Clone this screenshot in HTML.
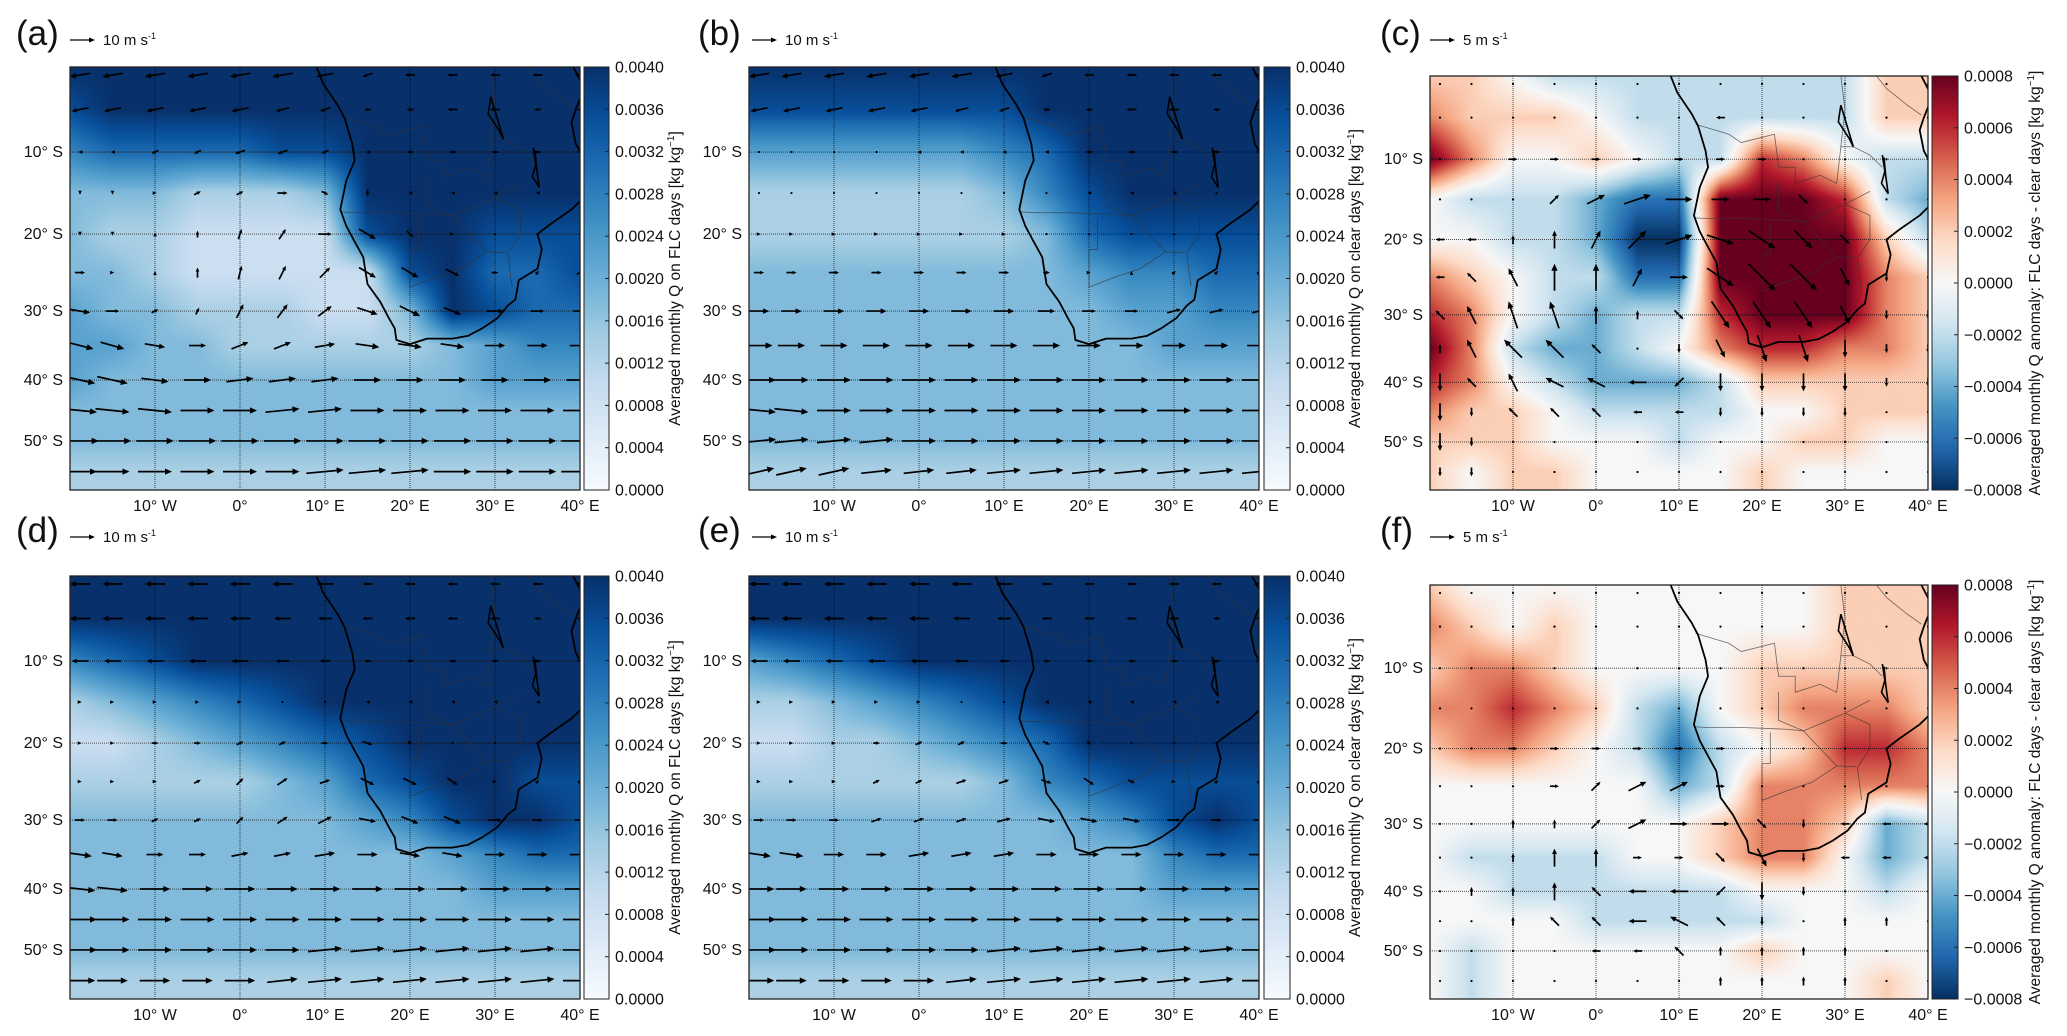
<!DOCTYPE html>
<html><head><meta charset="utf-8">
<style>
html,body{margin:0;padding:0;background:#fff;}
#root{position:relative;width:2067px;height:1036px;overflow:hidden;background:#fff;font-family:"Liberation Sans",sans-serif;}
canvas{position:absolute;}
svg{position:absolute;left:0;top:0;}
</style></head>
<body>
<div id="root">
<svg id="ov" width="2067" height="1036"></svg>
</div>
<script>
// ---------- data: rows = latitude 0,-5,...,-55 ; cols = longitude -20,-15,...,40 ----------
const lats = [0,-5,-10,-15,-20,-25,-30,-35,-40,-45,-50,-55];
const lons = [-20,-15,-10,-5,0,5,10,15,20,25,30,35,40];
// Q fields, digit d -> d/9*0.0040 kg/kg
const qA = ["9 9 9 9 9 9 9 9 9 9 9 9 9","8 9 9 9 9 9 9 9 9 9 9 9 9","6 7 7 7 7 8 8 9 9 9 9 9 9","4 4 4 3 3 3 4 9 9 9 9 9 9","4 3 3 2 2 2 2 8 9 9 8 8 8","4 4 3 2 2 2 2 2 8 9 7 7 8","5 4 4 3 3 3 2 2 4 9 8 7 7","5 5 4 4 3 3 3 3 3 4 5 6 6","5 4 4 4 4 4 4 4 4 4 5 5 5","4 4 4 4 4 4 4 4 4 4 4 4 4","4 4 4 4 4 4 4 4 4 4 4 4 4","3 3 3 3 3 3 3 3 3 3 3 3 3"];
const qB = ["9 9 9 9 9 9 9 9 9 9 9 9 9","8 8 8 8 8 8 8 9 9 9 9 9 9","5 5 5 5 5 5 6 7 9 9 9 9 9","3 3 3 3 3 3 4 6 8 9 9 9 9","3 3 3 3 3 3 3 4 7 8 8 8 8","4 4 4 4 4 4 4 4 5 6 6 7 7","4 4 4 4 4 4 4 4 4 5 5 6 6","4 4 4 4 4 4 4 4 4 4 5 5 5","4 4 4 4 4 4 4 4 4 4 4 4 4","4 4 4 4 4 4 4 4 4 4 4 4 4","4 4 4 4 4 4 4 4 4 4 4 4 4","3 3 3 3 3 3 3 3 3 3 3 3 3"];
const qD = ["9 9 9 9 9 9 9 9 9 9 9 9 9","9 9 9 9 9 9 9 9 9 9 9 9 9","6 7 8 9 9 9 9 9 9 9 9 9 9","3 4 5 6 7 8 9 9 9 9 9 9 9","2 2 3 4 5 6 7 8 9 9 9 9 9","3 3 3 3 3 4 5 7 8 9 9 8 8","4 4 4 4 4 4 4 5 6 8 9 9 8","4 4 4 4 4 4 4 4 4 5 6 7 7","4 4 4 4 4 4 4 4 4 4 5 5 5","4 4 4 4 4 4 4 4 4 4 4 4 4","4 4 4 4 4 4 4 4 4 4 4 4 4","3 3 3 3 3 3 3 3 3 3 3 3 3"];
const qE = ["9 9 9 9 9 9 9 9 9 9 9 9 9","9 9 9 9 9 9 9 9 9 9 9 9 9","5 6 7 8 9 9 9 9 9 9 9 9 9","3 3 4 5 6 7 8 9 9 9 9 9 9","2 2 3 3 4 5 6 7 9 9 9 9 9","3 3 3 3 3 3 4 6 7 8 8 8 8","4 4 4 4 4 4 4 4 5 6 8 9 8","4 4 4 4 4 4 4 4 4 4 6 7 7","4 4 4 4 4 4 4 4 4 4 5 5 5","4 4 4 4 4 4 4 4 4 4 4 4 4","4 4 4 4 4 4 4 4 4 4 4 4 4","3 3 3 3 3 3 3 3 3 3 3 3 3"];
// anomaly fields, digit d -> (d-4)/4*0.0008 kg/kg
const anC = ["5 5 4 3 3 3 3 3 3 3 3 5 5","6 5 5 5 4 3 3 3 3 3 3 5 5","8 6 4 4 5 4 3 3 7 6 4 3 3","4 3 3 3 2 1 1 8 8 8 7 3 2","4 4 3 3 2 0 0 8 8 8 8 5 3","6 5 4 3 3 1 1 8 8 8 8 6 5","7 6 4 3 2 3 3 7 8 8 8 6 5","8 6 3 2 2 3 4 6 7 7 6 6 5","7 6 4 3 2 2 2 3 5 5 5 5 5","6 5 5 4 3 3 3 3 4 4 5 5 5","5 5 5 4 4 4 3 4 4 5 5 4 4","5 4 5 5 4 4 4 4 5 4 4 4 4"];
const anF = ["5 4 4 4 4 4 4 4 4 4 5 5 5","6 5 4 5 4 4 4 4 4 4 5 5 5","5 6 6 5 4 4 4 4 5 5 5 5 5","6 6 7 6 5 3 2 4 5 6 6 6 5","5 6 6 5 4 3 1 3 4 5 7 7 6","4 4 4 4 4 4 2 3 6 6 6 6 6","4 4 4 4 4 4 4 5 6 6 5 2 3","4 3 3 3 3 4 4 5 6 6 4 2 3","4 4 3 3 3 3 3 3 4 4 4 3 4","4 4 4 4 3 3 3 3 3 4 4 4 4","4 3 4 4 4 4 4 4 5 4 4 4 4","4 3 4 4 4 4 4 4 4 4 4 5 4"];
// winds (m/s): u eastward, v northward
const uA = ["-6 -6 -6 -6 -6 -6 -5 -3 -3 -3 -3 -3 -3","-5 -5 -5 -5 -5 -4 -3 -2 -2 -3 -3 -2 -2","-1 -1 -2 -2 -3 -3 -2 -1 -2 -2 -2 -2 -2","0 0 1 2 2 3 2 0 -1 -1 -1 -1 -1","0 0 0 0 1 2 4 5 2 1 0 0 0","3 1 0 0 1 2 3 5 5 4 2 1 2","6 4 2 1 2 3 4 6 6 5 5 4 4","8 7 6 5 5 5 6 7 7 7 6 6 6","9 9 8 8 8 8 8 8 8 8 8 8 8","10 10 10 10 10 10 10 10 10 10 10 10 10","11 11 11 11 11 11 11 11 11 11 11 11 11","10 10 10 10 10 10 11 11 11 11 11 11 11"];
const vA = ["-1 -1 -1 -1 -1 -1 -1 -1 0 0 0 0 0","-1 -1 -1 -1 -1 -1 -1 0 0 0 0 0 0","0 0 -1 -1 -1 -1 -1 0 0 0 0 0 0","-1 -1 0 1 1 0 -1 -2 0 0 0 0 0","-1 -1 1 2 3 3 0 -3 -2 0 0 0 0","0 0 1 3 4 4 3 -3 -3 -2 0 1 1","-1 0 1 2 4 4 3 -2 -3 -2 0 0 0","-2 -2 -1 0 2 2 1 -1 -1 -1 0 0 0","-2 -2 -1 0 1 1 1 0 0 0 0 0 0","-1 -1 -1 0 0 1 1 0 0 0 0 0 0","0 0 0 0 0 0 0 0 0 0 0 0 0","0 0 0 0 0 0 1 1 1 0 0 0 0"];
const uB = ["-6 -6 -6 -6 -6 -6 -5 -3 -3 -3 -3 -3 -3","-5 -5 -5 -5 -5 -4 -3 -2 -2 -3 -3 -2 -2","0 0 0 0 -1 -1 -1 -1 -2 -2 -2 -2 -2","0 0 0 0 0 0 0 0 -1 -1 -1 0 0","1 1 1 1 1 1 1 0 0 0 0 0 0","3 3 3 3 3 3 3 2 1 0 1 1 1","6 6 6 6 6 6 6 5 4 4 4 4 4","8 8 8 8 8 8 8 8 7 7 7 7 7","10 10 10 10 10 10 10 10 10 10 10 10 10","10 10 10 10 10 10 10 10 10 10 10 10 10","10 10 10 10 10 10 10 10 10 10 10 10 10","9 9 9 9 9 9 10 10 10 10 10 10 10"];
const vB = ["-1 -1 -1 -1 -1 -1 -1 -1 0 0 0 0 0","-1 -1 -1 -1 -1 -1 -1 0 0 0 0 0 0","0 0 0 0 0 0 0 0 0 0 0 0 0","0 0 0 0 0 0 0 0 0 0 0 0 0","0 0 0 0 0 0 0 0 0 0 0 0 0","0 0 0 0 0 0 0 0 0 1 1 1 1","0 0 0 0 0 0 0 0 0 0 1 1 1","0 0 0 0 0 0 0 0 0 0 0 0 0","0 0 0 0 0 0 0 0 0 0 0 0 0","-1 -1 0 0 0 0 0 0 0 0 0 0 0","1 1 1 1 0 0 0 0 0 0 0 0 0","2 2 2 1 1 1 1 1 1 1 1 1 1"];
const uD = ["-6 -6 -6 -6 -6 -6 -5 -3 -3 -3 -3 -3 -3","-6 -6 -6 -6 -6 -5 -4 -3 -3 -3 -3 -2 -2","-5 -5 -5 -5 -5 -4 -3 -2 -2 -2 -2 -2 -2","1 1 1 1 1 0 0 -1 -1 -1 -1 -1 -1","1 1 2 2 2 2 2 3 1 0 0 0 0","1 1 1 2 2 3 3 4 4 3 1 1 1","3 3 2 2 2 3 4 5 5 5 4 3 3","7 6 5 5 5 5 6 6 6 6 6 6 6","9 9 9 9 9 9 9 9 9 9 9 9 9","10 10 10 10 10 10 10 10 10 10 10 10 10","10 10 10 10 10 10 10 10 10 10 10 10 10","9 9 9 9 9 9 10 10 10 10 10 10 10"];
const vD = ["0 0 0 0 0 0 0 0 0 0 0 0 0","0 0 0 0 0 0 0 0 0 0 0 0 0","0 0 0 0 0 0 0 0 0 0 0 0 0","0 0 0 0 0 0 0 0 0 0 0 0 0","0 0 0 0 1 1 0 -1 -1 0 0 0 0","0 0 0 1 2 2 1 -2 -2 -2 0 1 1","0 0 1 1 2 2 2 -1 -2 -2 0 0 0","-1 -1 0 0 1 1 1 0 -1 -1 0 0 0","-1 -1 0 0 0 0 0 0 0 0 0 0 0","0 0 0 0 0 0 0 0 0 0 0 0 0","0 0 0 0 0 0 1 1 1 1 1 1 0","0 0 0 0 0 1 1 1 1 1 1 1 0"];
const uE = ["-6 -6 -6 -6 -6 -6 -5 -3 -3 -3 -3 -3 -3","-6 -6 -6 -6 -6 -5 -4 -3 -3 -3 -3 -2 -2","-5 -5 -5 -5 -5 -4 -3 -2 -2 -2 -2 -2 -2","1 1 1 1 1 0 0 -1 -1 -1 -1 -1 -1","1 1 1 2 2 2 2 2 1 0 0 0 0","1 1 1 2 2 3 3 3 3 2 1 1 1","3 3 3 3 3 3 4 5 5 5 4 3 3","7 7 6 6 6 6 6 6 6 6 6 6 6","9 9 9 9 9 9 9 9 9 9 9 9 9","10 10 10 10 10 10 10 10 10 10 10 10 10","10 10 10 10 10 10 10 10 10 10 10 10 10","9 9 9 9 9 9 10 10 10 10 10 10 10"];
const vE = ["0 0 0 0 0 0 0 0 0 0 0 0 0","0 0 0 0 0 0 0 0 0 0 0 0 0","0 0 0 0 0 0 0 0 0 0 0 0 0","0 0 0 0 0 0 0 0 0 0 0 0 0","0 0 0 0 1 1 0 -1 -1 0 0 0 0","0 0 0 1 1 1 1 -1 -2 -1 0 1 1","0 0 0 1 1 1 1 -1 -1 -1 0 0 0","-1 -1 0 0 1 1 1 0 0 0 0 0 0","0 0 0 0 0 0 0 0 0 0 0 0 0","0 0 0 0 0 0 0 0 0 0 0 0 0","0 0 0 0 0 0 1 1 1 1 1 1 0","0 0 0 0 0 1 1 1 1 1 1 1 0"];
const uC = ["0 0 0 0 0 0 0 0 0 0 0 0 0","0 0 0 0 0 0 0 -1 0 0 0 0 0","0 0 1 1 1 1 1 1 1 0 0 0 0","0 0 0 1 2 3 3 2 2 1 0 0 0","-1 -1 0 0 1 2 3 3 3 2 1 0 0","-1 -1 -1 0 0 1 2 3 3 3 1 0 0","-1 -1 -1 -1 0 0 1 2 2 2 1 0 0","0 -1 -2 -2 -1 0 0 1 1 1 0 0 0","0 -1 -1 -2 -2 -2 -1 0 0 0 0 0 0","0 0 -1 -1 -1 -1 -1 0 0 0 0 0 0","0 0 0 0 0 0 0 0 0 0 0 0 0","0 0 0 0 0 0 0 0 0 0 0 0 0"];
const vC = ["0 0 0 0 0 0 0 0 0 0 0 0 0","0 0 0 0 0 0 0 0 0 0 0 0 0","0 0 0 0 0 0 0 0 0 0 0 0 0","0 0 0 1 1 1 0 0 0 -1 0 0 0","0 0 1 2 2 2 1 -1 -2 -2 -1 0 0","0 1 2 3 3 2 0 -2 -3 -3 -2 -1 0","1 2 3 3 2 1 -1 -3 -3 -3 -2 -1 -1","1 2 2 2 1 0 -1 -2 -3 -3 -2 -1 -1","-2 1 2 1 1 0 -1 -2 -2 -2 -2 -1 -1","-2 -1 1 1 1 0 0 -1 -1 -1 -1 0 0","-2 -1 0 0 0 0 0 0 0 0 0 0 0","-1 -1 0 0 0 0 0 0 0 0 0 0 0"];
const uF = ["0 0 0 0 0 0 0 0 0 0 0 0 0","0 0 0 0 0 0 0 0 0 0 0 0 0","0 0 0 0 0 0 0 0 0 0 0 0 0","0 0 0 0 0 0 0 0 0 0 0 0 0","0 0 1 1 1 1 1 1 0 0 0 0 0","0 0 0 1 1 2 2 1 0 0 0 0 0","0 0 0 0 1 2 2 2 1 0 -1 -1 -1","0 0 0 0 0 1 1 1 1 0 -1 -1 -1","0 0 0 0 -1 -2 -2 -1 0 0 0 0 0","0 0 0 -1 -1 -2 -2 -1 0 0 0 0 0","0 0 0 0 -1 -1 -1 0 0 0 0 0 0","0 0 0 0 0 0 0 0 0 0 0 0 0"];
const vF = ["0 0 0 0 0 0 0 0 0 0 0 0 0","0 0 0 0 0 0 0 0 0 0 0 0 0","0 0 0 0 0 0 0 0 0 0 0 0 0","0 0 0 0 0 0 0 0 0 0 0 0 0","0 0 0 0 0 0 0 0 0 0 0 0 0","0 0 0 0 1 1 1 0 0 0 0 0 0","0 0 1 1 1 1 0 0 -1 -1 0 0 0","0 0 1 2 2 0 0 -1 -2 -1 0 0 0","0 1 1 2 1 0 0 -1 -2 -1 0 0 0","0 0 1 1 1 0 1 1 -1 0 1 1 0","0 0 0 0 0 0 1 1 1 1 1 0 0","0 0 0 0 0 0 0 1 1 1 1 0 0"];
const qTicks = ["0.0000","0.0004","0.0008","0.0012","0.0016","0.0020","0.0024","0.0028","0.0032","0.0036","0.0040"];
const anTicks = ["−0.0008","−0.0006","−0.0004","−0.0002","0.0000","0.0002","0.0004","0.0006","0.0008"];
const latTickVals = [10,20,30,40,50];
const lonTickVals = [-10,0,10,20,30,40];

// ---------- geometry ----------
const LATV=[0,10,20,30,40,50,58], LATF=[0,.201,.395,.577,.740,.884,1];
function latFrac(lat){const a=-lat;for(let i=0;i<LATV.length-1;i++){if(a<=LATV[i+1]||i==LATV.length-2){return LATF[i]+(a-LATV[i])/(LATV[i+1]-LATV[i])*(LATF[i+1]-LATF[i]);}}}
function fracLat(f){for(let i=0;i<LATF.length-1;i++){if(f<=LATF[i+1]||i==LATF.length-2){return -(LATV[i]+(f-LATF[i])/(LATF[i+1]-LATF[i])*(LATV[i+1]-LATV[i]));}}}
const parse = rows => rows.map(r=>r.trim().split(/\s+/).map(Number));
const BLUES=[[0,'#f7fbff'],[.125,'#deebf7'],[.25,'#c6dbef'],[.375,'#9ecae1'],[.5,'#6baed6'],[.625,'#4292c6'],[.75,'#2171b5'],[.875,'#08519c'],[1,'#08306b']];
const RDBU=[[0,'#053061'],[.1,'#2166ac'],[.2,'#4393c3'],[.3,'#92c5de'],[.4,'#d1e5f0'],[.5,'#f7f7f7'],[.6,'#fddbc7'],[.7,'#f4a582'],[.8,'#d6604d'],[.9,'#b2182b'],[1,'#67001f']];
const hex=h=>[1,3,5].map(i=>parseInt(h.substr(i,2),16));
function cmap(stops,t){t=Math.max(0,Math.min(1,t));for(let i=0;i<stops.length-1;i++){if(t<=stops[i+1][0]){const a=hex(stops[i][1]),b=hex(stops[i+1][1]);const f=(t-stops[i][0])/(stops[i+1][0]-stops[i][0]);return a.map((v,k)=>v+(b[k]-v)*f);}}return hex(stops[stops.length-1][1]);}

const panels=[
 {id:'a',x:70,y:67,w:510,h:423,kind:'q',f:qA,u:uA,v:vA,cb:584,cbw:25,lx:680,lab:'Averaged monthly Q on FLC days [kg kg',tx:16,ty:33,key:'10 m s',ks:3.4},
 {id:'b',x:749,y:67,w:510,h:423,kind:'q',f:qB,u:uB,v:vB,cb:1264,cbw:26,lx:1360,lab:'Averaged monthly Q on clear days [kg kg',tx:698,ty:33,key:'10 m s',ks:3.4},
 {id:'c',x:1430,y:76,w:498,h:414,kind:'an',f:anC,u:uC,v:vC,cb:1932,cbw:26,lx:2040,lab:'Averaged monthly Q anomaly: FLC days - clear days [kg kg',tx:1380,ty:33,key:'5 m s',ks:9},
 {id:'d',x:70,y:576,w:510,h:423,kind:'q',f:qD,u:uD,v:vD,cb:584,cbw:25,lx:680,lab:'Averaged monthly Q on FLC days [kg kg',tx:16,ty:530,key:'10 m s',ks:3.4},
 {id:'e',x:749,y:576,w:510,h:423,kind:'q',f:qE,u:uE,v:vE,cb:1264,cbw:26,lx:1360,lab:'Averaged monthly Q on clear days [kg kg',tx:698,ty:530,key:'10 m s',ks:3.4},
 {id:'f',x:1430,y:585,w:498,h:414,kind:'an',f:anF,u:uF,v:vF,cb:1932,cbw:26,lx:2040,lab:'Averaged monthly Q anomaly: FLC days - clear days [kg kg',tx:1380,ty:530,key:'5 m s',ks:9}
];
const coast=[[9,0],[9.8,-2],[11.5,-4.5],[12.3,-6],[13.2,-9],[13.5,-11],[12.5,-13.5],[11.8,-17],[12.5,-19],[13.5,-21],[14.5,-23],[15,-26.5],[16.5,-28.8],[17.5,-31],[18.2,-32.5],[18.4,-34.2],[20,-34.8],[22,-34],[25,-34],[26.8,-33.6],[28.5,-32.5],[30.3,-31],[31.5,-29.3],[32.4,-28.5],[32.8,-26],[35,-24.5],[35.5,-22],[35,-20],[36.5,-18.8],[39,-17],[40.5,-15.5]];
const coastN=[[39.2,0],[40.5,-2.5],[39.5,-5],[39,-6.5],[39.5,-9],[40.3,-10.5]];
const borders=[[[12,-5.8],[16,-7],[17.5,-8],[21.5,-7],[22,-11],[24,-11],[24,-13]],[[11.8,-17.3],[14,-17.4],[18,-17.4],[23,-17.6],[25,-17.8]],[[20,-22],[20,-26.9],[23,-25.6],[26,-24.5],[29,-22.3],[31.3,-22.4]],[[21,-18],[21,-22],[20,-22]],[[22,-13],[22,-16.5],[25,-17.8],[28,-16.5],[30,-15.6],[33,-14]],[[30,-15.6],[33,-17],[33,-20],[31.5,-22.5],[32,-26.8]],[[25,-17.8],[27,-20],[29,-22.3]],[[24,-13],[27,-12],[29,-13],[29.5,-8.5],[31,-8.5],[33,-9.5],[34.5,-11]],[[29.5,-8.5],[30,-4],[29.5,0]],[[33.8,0],[35,-1.5],[37.5,-3.5],[39.2,-4.7]]];
const lakes=[[[34.5,-9.5],[34.8,-11.5],[34.4,-13],[35.2,-14.3],[34.9,-12],[34.7,-9.8]],[[29.5,-3.5],[29.2,-5.5],[30.5,-7.5],[31,-8.5],[30.4,-6.5],[29.5,-3.5]]];

const ov=document.getElementById('ov');
const NS='http://www.w3.org/2000/svg';
function mk(tag,attrs,parent){const e=document.createElementNS(NS,tag);for(const k in attrs)e.setAttribute(k,attrs[k]);(parent||ov).appendChild(e);return e;}

panels.forEach(p=>{
  const X=lon=>p.x+(lon+20)/60*p.w, Y=lat=>p.y+latFrac(lat)*p.h;
  const F=parse(p.f),U=parse(p.u),V=parse(p.v);
  const stops=p.kind=='q'?BLUES:RDBU;
  const val=d=>p.kind=='q'?d/9:d/8;
  const cv=document.createElement('canvas');
  cv.width=p.w;cv.height=p.h;cv.style.left=p.x+'px';cv.style.top=p.y+'px';
  
  
  document.getElementById('root').insertBefore(cv,ov);
  const ctx=cv.getContext('2d'),img=ctx.createImageData(p.w,p.h);
  for(let py=0;py<p.h;py++){
    const lat=fracLat((py+.5)/p.h);let ri=Math.min(-lat/5,10.999);const r0=Math.floor(ri),fr=ri-r0;
    for(let px=0;px<p.w;px++){
      const lon=-20+60*(px+.5)/p.w;let ci=Math.min((lon+20)/5,11.999);const c0=Math.floor(ci),fc=ci-c0;
      const d=F[r0][c0]*(1-fr)*(1-fc)+F[r0][c0+1]*(1-fr)*fc+F[r0+1][c0]*fr*(1-fc)+F[r0+1][c0+1]*fr*fc;
      const col=cmap(stops,val(d));const i=(py*p.w+px)*4;
      img.data[i]=col[0];img.data[i+1]=col[1];img.data[i+2]=col[2];img.data[i+3]=255;
    }
  }
  ctx.putImageData(img,0,0);
  const cp=mk('clipPath',{id:'clip'+p.id});
  mk('rect',{x:p.x,y:p.y,width:p.w,height:p.h},cp);
  const g=mk('g',{'clip-path':'url(#clip'+p.id+')'});
  
  
  latTickVals.forEach(lt=>{const l=mk('line',{x1:p.x,x2:p.x+p.w,y1:Y(-lt),y2:Y(-lt),stroke:'#000','stroke-width':0.9,'stroke-dasharray':'1,1',opacity:0.75},g);
    
    });
  lonTickVals.slice(0,5).forEach(ln=>{const l=mk('line',{x1:X(ln),x2:X(ln),y1:p.y,y2:p.y+p.h,stroke:'#000','stroke-width':0.9,'stroke-dasharray':'1,1',opacity:0.75},g);
    
    });
  borders.forEach(b=>{const l=mk('polyline',{points:b.map(q=>X(q[0])+','+Y(q[1])).join(' '),fill:'none',stroke:'#333','stroke-width':0.8,opacity:0.7},g);
    
    });
  lakes.forEach(b=>{const l=mk('polyline',{points:b.map(q=>X(q[0])+','+Y(q[1])).join(' '),fill:'none',stroke:'#000','stroke-width':1.6},g);
    
    });
  [coast,coastN].forEach(c=>{const l=mk('polyline',{points:c.map(q=>X(q[0])+','+Y(q[1])).join(' '),fill:'none',stroke:'#000','stroke-width':1.8,'stroke-linejoin':'round'},g);
    
    });
  lats.forEach((lt,i)=>lons.forEach((ln,j)=>{
    const u=U[i][j],v=V[i][j];const dx=u*p.ks,dy=-v*p.ks;const L=Math.hypot(dx,dy);
    const cx=X(ln)+(j==0?10:0),cy=Y(lt)+(i==0?8:0);
    if(L<0.5){const d=mk('circle',{cx:cx,cy:cy,r:1.1,fill:'#000'},g);
      
      return;}
    const x1=cx-dx/2,y1=cy-dy/2,x2=cx+dx/2,y2=cy+dy/2;const ux=dx/L,uy=dy/L;const hs=Math.min(7,Math.max(4,L*0.3));
    const a=mk('g',{},g);
    
    
    mk('line',{x1:x1,y1:y1,x2:x2-ux*hs*0.6,y2:y2-uy*hs*0.6,stroke:'#000','stroke-width':1.7},a);
    mk('polygon',{points:[x2,y2,x2-ux*hs-uy*hs*0.45,y2-uy*hs+ux*hs*0.45,x2-ux*hs+uy*hs*0.45,y2-uy*hs-ux*hs*0.45].join(','),fill:'#000'},a);
  }));
  const fr=mk('rect',{x:p.x,y:p.y,width:p.w,height:p.h,fill:'none',stroke:'#222','stroke-width':1.3});
  
  
  latTickVals.forEach(lt=>{const t=mk('text',{x:p.x-7,y:Y(-lt)+5,'text-anchor':'end','font-size':16,fill:'#111'});t.textContent=lt+'° S';
    
    });
  lonTickVals.forEach(ln=>{const t=mk('text',{x:X(ln),y:p.y+p.h+21,'text-anchor':'middle','font-size':16,fill:'#111'});t.textContent=ln<0?(-ln)+'° W':ln==0?'0°':ln+'° E';
    
    });
  const gid='grad'+p.id;const lg=mk('linearGradient',{id:gid,x1:0,y1:1,x2:0,y2:0});
  stops.forEach(s=>mk('stop',{offset:s[0],'stop-color':s[1]},lg));
  const cb=mk('rect',{x:p.cb,y:p.y,width:p.cbw,height:p.h,fill:'url(#'+gid+')',stroke:'#222','stroke-width':1});
  
  
  const ticks=p.kind=='q'?qTicks:anTicks;
  ticks.forEach((tk,k)=>{const ty=p.y+p.h*(1-k/(ticks.length-1));
    const t=mk('text',{x:p.cb+p.cbw+6,y:ty+5.5,'font-size':16,fill:'#111'});t.textContent=tk;
    
    
    mk('line',{x1:p.cb+p.cbw-4,x2:p.cb+p.cbw,y1:ty,y2:ty,stroke:'#222'});});
  const cl=mk('text',{x:p.lx,y:p.y+p.h/2,'text-anchor':'middle','font-size':15.5,fill:'#111',transform:'rotate(-90 '+p.lx+' '+(p.y+p.h/2)+')'});
  cl.textContent=p.lab;const sup=mk('tspan',{dy:-6,'font-size':10},cl);sup.textContent='−1';const cls=mk('tspan',{dy:6},cl);cls.textContent=']';
  
  
  const pl=mk('text',{x:p.tx,y:p.ty+12,'font-size':35,fill:'#111'});pl.textContent='('+p.id+')';
  
  
  const ka=mk('g',{});
  
  
  const kx=p.tx+(p.id=='c'||p.id=='f'?50:54),ky=p.ty+7;
  mk('line',{x1:kx,y1:ky,x2:kx+20,y2:ky,stroke:'#000','stroke-width':1.3},ka);
  mk('polygon',{points:[kx+25,ky,kx+19,ky-2.5,kx+19,ky+2.5].join(','),fill:'#000'},ka);
  const kt=mk('text',{x:kx+33,y:ky+5,'font-size':15,fill:'#111'},ka);kt.textContent=p.key;
  const ks=mk('tspan',{dy:-6,'font-size':9},kt);ks.textContent='-1';
});
</script>
</body></html>
